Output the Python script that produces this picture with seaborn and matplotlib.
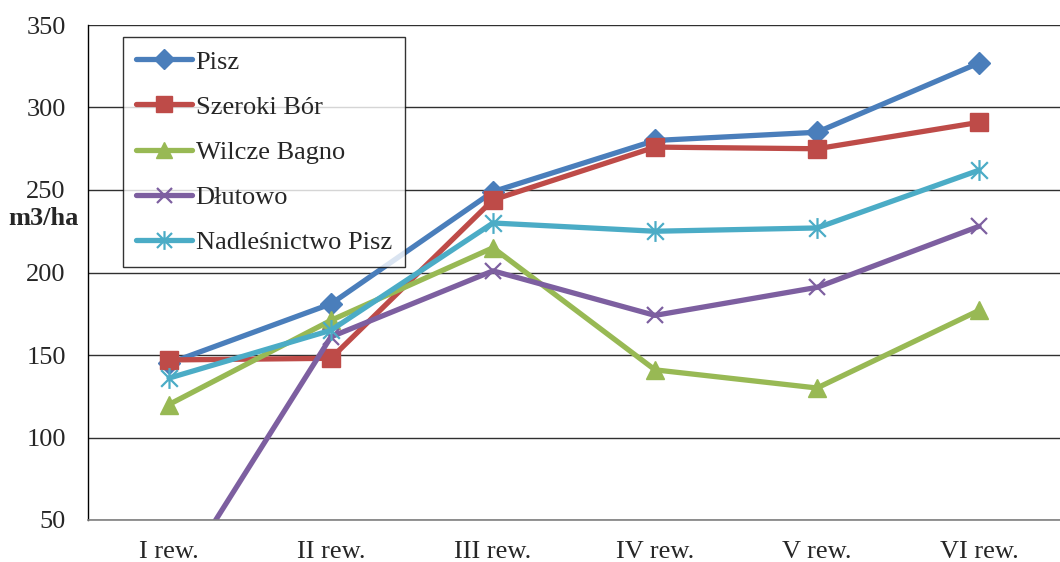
import numpy as np
import pandas as pd
import matplotlib
matplotlib.use("Agg")
import matplotlib.pyplot as plt
from matplotlib.path import Path
import seaborn as sns

# ---------- DATA ----------
PERIODS = ["I rew.", "II rew.", "III rew.", "IV rew.", "V rew.", "VI rew."]
PISZ = [145, 181, 249, 280, 285, 327]
SZEROKI_BOR = [147, 148, 244, 276, 275, 291]
WILCZE_BAGNO = [120, 171, 215, 141, 130, 177]
DLUTOWO = [5, 161, 201, 174, 191, 228]
NADLESNICTWO = [136, 165, 230, 225, 227, 262]

SERIES = ["Pisz", "Szeroki Bór", "Wilcze Bagno", "Dłutowo", "Nadleśnictwo Pisz"]
VALUES = [PISZ, SZEROKI_BOR, WILCZE_BAGNO, DLUTOWO, NADLESNICTWO]
COLORS = ["#4A7EBB", "#BE4B48", "#98B954", "#7D5FA0", "#4BACC6"]

# asterisk marker: x with a vertical bar
ASTERISK = Path(
    [(-0.8, -0.8), (0.8, 0.8), (-0.8, 0.8), (0.8, -0.8), (0, -1), (0, 1)],
    [Path.MOVETO, Path.LINETO, Path.MOVETO, Path.LINETO, Path.MOVETO, Path.LINETO],
)
MARKERS = ["D", "s", "^", "x", ASTERISK]
MSIZES = [11, 13, 13, 12, 15]

df = pd.DataFrame({
    "period": PERIODS * len(SERIES),
    "value": np.concatenate(VALUES),
    "series": np.repeat(SERIES, len(PERIODS)),
})

sns.set_style("white")
plt.rcParams["font.family"] = ["Liberation Serif", "DejaVu Serif"]
plt.rcParams["font.size"] = 19

fig = plt.figure(figsize=(10.6, 5.62), dpi=100)
ax = fig.add_axes([88 / 1060, 1 - 520 / 562, 972 / 1060, 495 / 562])

for name, color, mk, ms in zip(SERIES, COLORS, MARKERS, MSIZES):
    sub = df[df["series"] == name]
    filled = mk in ("D", "s", "^")
    sns.lineplot(data=sub, x="period", y="value", ax=ax, color=color, lw=3.8,
                 marker=mk, markersize=ms, markeredgecolor=color,
                 markerfacecolor=color if filled else "none",
                 markeredgewidth=1.0 if filled else 1.6,
                 sort=False, label=name)

ax.set_xlim(-0.5, len(PERIODS) - 0.5)
ax.set_ylim(50, 350)
ax.set_yticks(np.arange(50, 351, 50))
ax.yaxis.grid(True, color="#303030", lw=1.0)
ax.set_axisbelow(True)
for s in ["top", "right"]:
    ax.spines[s].set_visible(False)
ax.spines["bottom"].set_color("#808080")
ax.spines["bottom"].set_linewidth(1.2)
ax.spines["left"].set_color("black")
ax.spines["left"].set_linewidth(1.0)
ax.tick_params(axis="both", length=0, labelsize=19)
ax.tick_params(axis="y", pad=16)
ax.tick_params(axis="x", pad=15)
ax.set_xlabel("")
ax.set_ylabel("m3/ha", rotation=0, fontweight="bold", fontsize=19)
ax.yaxis.set_label_coords(-0.046, 0.586)

leg = ax.legend(loc="upper left", bbox_to_anchor=(0.036, 0.976), borderaxespad=0,
                frameon=True, fancybox=False, edgecolor="black", fontsize=19,
                handlelength=2.1, handletextpad=0.15, labelspacing=0.82,
                borderpad=0.5, markerscale=0.9)
leg.get_frame().set_linewidth(1.0)

fig.savefig("out.png", dpi=100)
